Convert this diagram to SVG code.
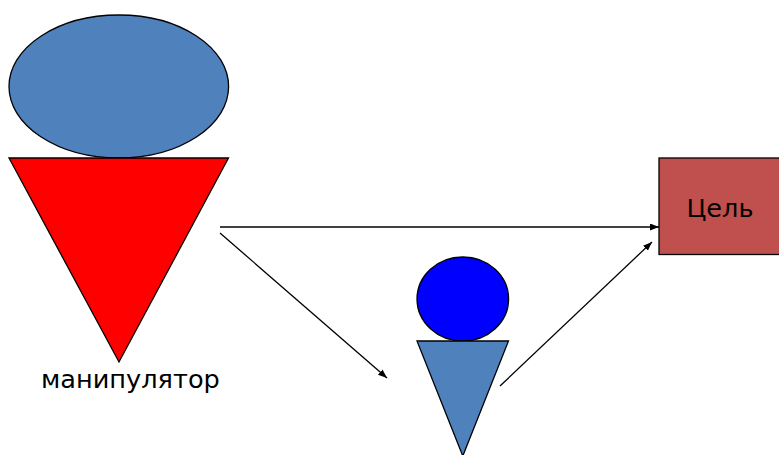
<svg xmlns="http://www.w3.org/2000/svg" width="779" height="455" viewBox="0 0 779 455">
<style>
.s{stroke:#000;stroke-width:1.3}
.c{stroke:#000;stroke-width:1.3;fill:none;marker-end:url(#a)}
text{font-family:"DejaVu Sans",Verdana,sans-serif;font-size:25.600px;fill:#000}
</style>
<defs><marker id="a" markerUnits="userSpaceOnUse" markerWidth="10" markerHeight="8" refX="9" refY="3.500" orient="auto"><path d="M0 0L9 3.500L0 7Z" fill="#000"/></marker></defs>
<rect width="779" height="455" fill="#fff"/>
<g id="manipulator">
<ellipse class="s" cx="118.800" cy="86.500" rx="109.800" ry="71.500" fill="#4f81bd"/>
<polygon class="s" points="9,158 228.500,158 119,362" fill="#f00"/>
<text x="41" y="388">манипулятор</text>
</g>
<g id="agent">
<ellipse class="s" cx="462.800" cy="299" rx="45.800" ry="42" fill="#00f"/>
<polygon class="s" points="417,341 508.500,341 462.800,456" fill="#4f81bd"/>
</g>
<g id="target">
<rect class="s" x="659" y="158" width="121" height="96.500" fill="#c0504d"/>
<text x="686.500" y="217">Цель</text>
</g>
<g id="connectors">
<line class="c" x1="220" y1="227" x2="659" y2="227"/>
<line class="c" x1="220" y1="233" x2="387" y2="378"/>
<line class="c" x1="500" y1="386" x2="652" y2="242"/>
</g>
</svg>
